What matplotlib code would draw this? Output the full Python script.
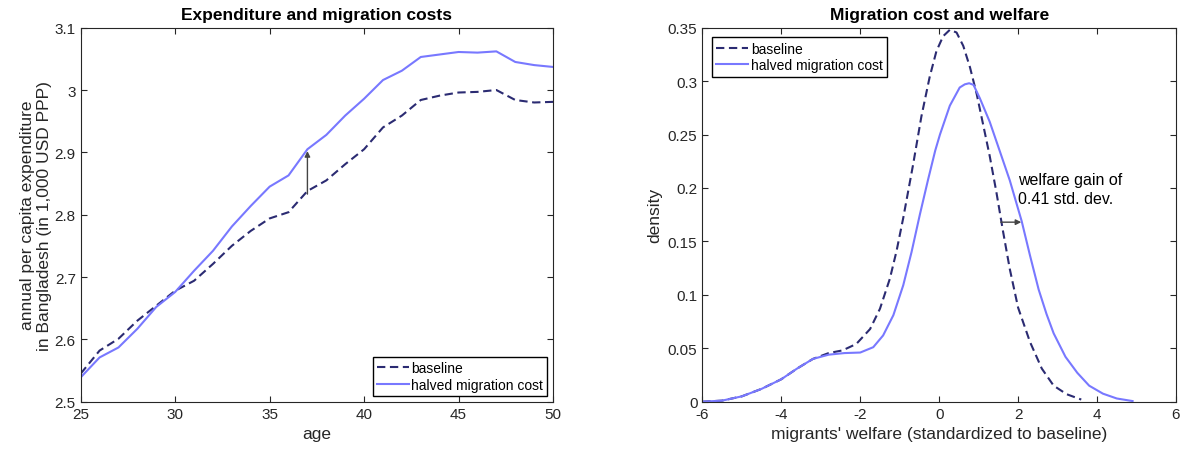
import matplotlib
matplotlib.use("Agg")
import matplotlib.pyplot as plt
from matplotlib.ticker import FuncFormatter

plt.rcParams['font.family'] = ['Liberation Sans', 'DejaVu Sans']
plt.rcParams['axes.unicode_minus'] = False

# left panel: expenditure by age
ages = list(range(25, 51))
exp_baseline = [2.545, 2.582, 2.601, 2.630, 2.654, 2.678, 2.694, 2.721, 2.750, 2.774,
                2.794, 2.804, 2.838, 2.855, 2.881, 2.905, 2.940, 2.959, 2.984, 2.991,
                2.996, 2.997, 3.000, 2.984, 2.980, 2.981]
exp_halved = [2.539, 2.571, 2.587, 2.617, 2.652, 2.676, 2.710, 2.742, 2.781, 2.814,
              2.845, 2.863, 2.905, 2.928, 2.959, 2.986, 3.016, 3.031, 3.053, 3.057,
              3.061, 3.060, 3.062, 3.045, 3.040, 3.037]

# right panel: welfare densities
w_base_x = [-6, -5.5, -5, -4.5, -4, -3.6, -3.2, -2.8, -2.45, -2.1, -1.75, -1.5, -1.25,
            -1.08, -0.91, -0.77, -0.66, -0.45, -0.24, -0.07, 0.10, 0.27, 0.44, 0.61,
            0.78, 0.95, 1.11, 1.28, 1.45, 1.62, 1.79, 2.0, 2.3, 2.6, 2.9, 3.23, 3.6]
w_base_y = [0, 0.001, 0.005, 0.012, 0.021, 0.031, 0.040, 0.0455, 0.048, 0.054, 0.068,
            0.087, 0.115, 0.141, 0.172, 0.200, 0.222, 0.267, 0.304, 0.328, 0.342, 0.348,
            0.3455, 0.333, 0.313, 0.288, 0.260, 0.230, 0.196, 0.159, 0.124, 0.088, 0.056,
            0.031, 0.015, 0.007, 0.002]
w_half_x = [-6, -5.5, -5, -4.5, -4, -3.6, -3.2, -2.8, -2.4, -2.0, -1.67, -1.42, -1.16,
            -0.91, -0.70, -0.49, -0.28, -0.10, 0.02, 0.27, 0.52, 0.65, 0.76, 0.87, 1.03,
            1.28, 1.54, 1.79, 2.09, 2.3, 2.52, 2.72, 2.9, 3.2, 3.5, 3.8, 4.15, 4.5, 4.83,
            4.9]
w_half_y = [0, 0.001, 0.005, 0.012, 0.021, 0.031, 0.040, 0.044, 0.0455, 0.046, 0.051,
            0.062, 0.081, 0.109, 0.140, 0.175, 0.208, 0.235, 0.250, 0.277, 0.294, 0.297,
            0.298, 0.2965, 0.284, 0.262, 0.234, 0.207, 0.169, 0.137, 0.105, 0.082, 0.064,
            0.042, 0.027, 0.015, 0.0075, 0.003, 0.001, 0.0006]

c_base = '#2b2b72'
c_half = '#7878ff'
c_axis = '#262626'

fig = plt.figure(figsize=(11.85, 4.56), dpi=100)
ax1 = fig.add_axes([0.0681, 0.1169, 0.3986, 0.8202])
ax2 = fig.add_axes([0.5927, 0.1169, 0.3997, 0.8202])


def style(ax):
    for s in ax.spines.values():
        s.set_color(c_axis)
        s.set_linewidth(0.8)
    ax.tick_params(direction='in', top=True, right=True, length=4, width=0.8,
                   colors=c_axis, labelsize=11, labelcolor=c_axis)


# left
ax1.plot(ages, exp_baseline, color=c_base, lw=1.5, dashes=(4, 2.2), label='baseline')
ax1.plot(ages, exp_halved, color=c_half, lw=1.5, label='halved migration cost')
ax1.annotate('', xy=(37, 2.902), xytext=(37, 2.833),
             arrowprops=dict(arrowstyle='-|>', color='#444444', lw=1, mutation_scale=8,
                             shrinkA=0, shrinkB=0))
ax1.set_xlim(25, 50)
ax1.set_ylim(2.5, 3.1)
ax1.set_xticks(range(25, 51, 5))
ax1.set_yticks([2.5, 2.6, 2.7, 2.8, 2.9, 3.0, 3.1])
ax1.yaxis.set_major_formatter(FuncFormatter(lambda v, p: '%g' % round(v, 2)))
ax1.set_xlabel('age', fontsize=12.5, color=c_axis)
ax1.set_ylabel('annual per capita expenditure\nin Bangladesh (in 1,000 USD PPP)',
               fontsize=12.5, color=c_axis, labelpad=2)
ax1.set_title('Expenditure and migration costs', fontsize=12.5, fontweight='bold')
style(ax1)
leg1 = ax1.legend(loc='lower right', fontsize=10, fancybox=False, framealpha=1,
                  edgecolor='black', handlelength=2.3, handletextpad=0.2,
                  borderpad=0.3, labelspacing=0.2, borderaxespad=0.4)
leg1.get_frame().set_linewidth(1)

# right
ax2.plot(w_base_x, w_base_y, color=c_base, lw=1.5, dashes=(4, 2.2), label='baseline')
ax2.plot(w_half_x, w_half_y, color=c_half, lw=1.5, label='halved migration cost')
ax2.annotate('', xy=(2.08, 0.168), xytext=(1.56, 0.168),
             arrowprops=dict(arrowstyle='-|>', color='#444444', lw=1, mutation_scale=8,
                             shrinkA=0, shrinkB=0))
ax2.text(2.0, 0.199, 'welfare gain of\n0.41 std. dev.', fontsize=11.5, va='center',
         ha='left', linespacing=1.3)
ax2.set_xlim(-6, 6)
ax2.set_ylim(0, 0.35)
ax2.set_xticks(range(-6, 7, 2))
ax2.set_yticks([0, 0.05, 0.1, 0.15, 0.2, 0.25, 0.3, 0.35])
ax2.yaxis.set_major_formatter(FuncFormatter(lambda v, p: '%g' % round(v, 3)))
ax2.set_xlabel("migrants' welfare (standardized to baseline)", fontsize=12.5, color=c_axis)
ax2.set_ylabel('density', fontsize=12.5, color=c_axis)
ax2.set_title('Migration cost and welfare', fontsize=12.5, fontweight='bold')
style(ax2)
leg2 = ax2.legend(loc='upper left', fontsize=10, fancybox=False, framealpha=1,
                  edgecolor='black', handlelength=2.3, handletextpad=0.2,
                  borderpad=0.3, labelspacing=0.2, borderaxespad=0.7)
leg2.get_frame().set_linewidth(1)

fig.savefig('out.png', dpi=100)
